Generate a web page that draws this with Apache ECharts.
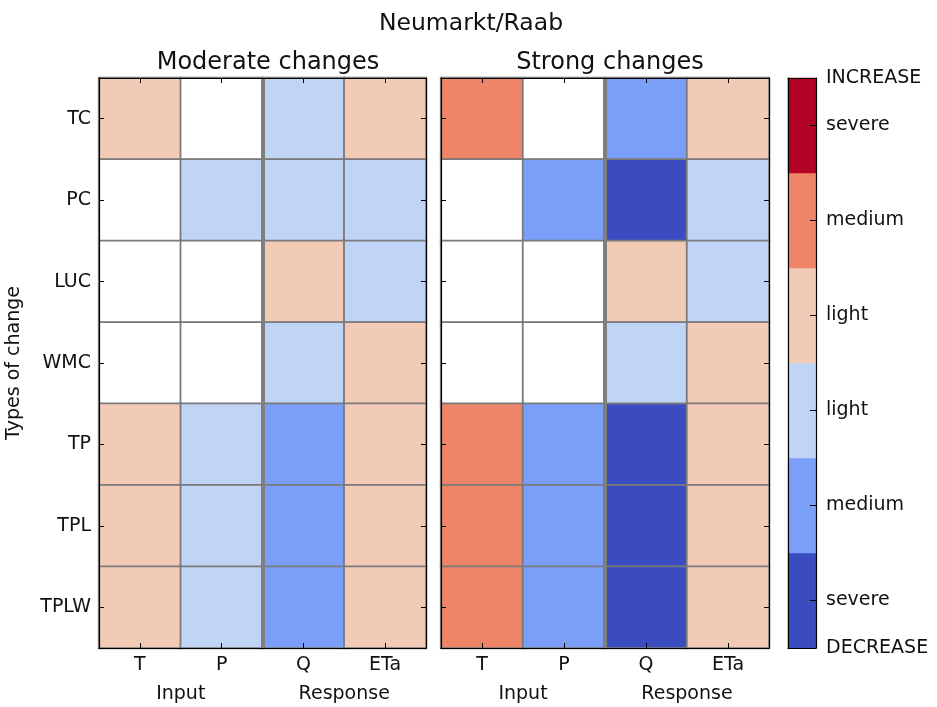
<!DOCTYPE html>
<html>
<head>
<meta charset="utf-8">
<script src="https://cdn.jsdelivr.net/npm/echarts@6/dist/echarts.min.js"></script>
<style>
  html, body { margin: 0; padding: 0; background: #fff; }
  #chart { width: 937px; height: 707px; }
</style>
</head>
<body>
<div id="chart"></div>
<script>
var columns = ['T', 'P', 'Q', 'ETa'];
var groups = ['Input', 'Response'];
var rows = ['TC', 'PC', 'LUC', 'WMC', 'TP', 'TPL', 'TPLW'];
// -3..3 : severe/medium/light decrease, no change, light/medium/severe increase
var moderate = [
  [1, 0, -1, 1],
  [0, -1, -1, -1],
  [0, 0, 1, -1],
  [0, 0, -1, 1],
  [1, -1, -2, 1],
  [1, -1, -2, 1],
  [1, -1, -2, 1]
];
var strong = [
  [2, 0, -2, 1],
  [0, -2, -3, -1],
  [0, 0, 1, -1],
  [0, 0, -1, 1],
  [2, -2, -3, 1],
  [2, -2, -3, 1],
  [2, -2, -3, 1]
];
var levels = [-3, -2, -1, 1, 2, 3];
var levelColors = ['#3b4cc0', '#7b9ff9', '#c0d4f5', '#f2cbb7', '#ee8468', '#b40426'];
var scaleLabels = ['DECREASE', 'severe', '', 'medium', '', 'light', '', 'light', '', 'medium', '', 'severe', 'INCREASE'];
var panelTitles = ['Moderate changes', 'Strong changes'];

var FONT = 'DejaVu Sans';
var chart = echarts.init(document.getElementById('chart'));

function cells(m) {
  var out = [];
  m.forEach(function (r, ri) {
    r.forEach(function (v, ci) { out.push([ci, ri, v]); });
  });
  return out;
}

var grids = [
  { left: 99, top: 78, width: 327, height: 570 },
  { left: 441, top: 78, width: 328, height: 570 },
  { left: 788, top: 78, width: 28, height: 570 }
];

var tickStyle = { show: true, inside: true, length: 5, alignWithLabel: true, lineStyle: { color: '#000', width: 1 } };
var lineStyle = { show: true, onZero: false, lineStyle: { color: '#000', width: 1.2 } };
var xAxes = [], yAxes = [], series = [];

[moderate, strong].forEach(function (m, p) {
  xAxes.push({ type: 'category', gridIndex: p, position: 'bottom', data: columns, z: 6,
    axisLine: lineStyle, axisTick: tickStyle,
    axisLabel: { color: '#111', fontSize: 19, fontFamily: FONT, margin: 8 }, splitLine: { show: false } });
  xAxes.push({ type: 'category', gridIndex: p, position: 'top', data: columns, z: 6,
    axisLine: lineStyle, axisTick: tickStyle, axisLabel: { show: false }, splitLine: { show: false } });
  xAxes.push({ type: 'category', gridIndex: p, position: 'bottom', data: groups, z: 6,
    axisLine: { show: false }, axisTick: { show: false },
    axisLabel: { color: '#111', fontSize: 19, fontFamily: FONT, margin: 37 } });
  xAxes.push({ type: 'value', gridIndex: p, position: 'bottom', min: 0, max: 4, interval: 2, z: 5,
    axisLine: { show: false }, axisTick: { show: false }, axisLabel: { show: false },
    splitLine: { show: true, showMinLine: false, showMaxLine: false, lineStyle: { color: '#7f7f7f', width: 4 } } });
  yAxes.push({ type: 'category', gridIndex: p, position: 'left', inverse: true, data: rows, z: 6,
    axisLine: lineStyle, axisTick: tickStyle,
    axisLabel: { show: p === 0, color: '#111', fontSize: 19, fontFamily: FONT, margin: 8 },
    name: p === 0 ? 'Types of change' : '', nameLocation: 'middle', nameGap: 75,
    nameTextStyle: { color: '#111', fontSize: 19, fontFamily: FONT } });
  yAxes.push({ type: 'category', gridIndex: p, position: 'right', inverse: true, data: rows, z: 6,
    axisLine: lineStyle, axisTick: tickStyle, axisLabel: { show: false } });
  series.push({ type: 'heatmap', xAxisIndex: 4 * p, yAxisIndex: 2 * p, data: cells(m), silent: true,
    emphasis: { disabled: true },
    itemStyle: { borderColor: '#7a7a7a', borderWidth: 1.8 } });
});

// colour bar
xAxes.push({ type: 'category', gridIndex: 2, position: 'bottom', data: ['c'], z: 6,
  axisLine: lineStyle, axisTick: { show: false }, axisLabel: { show: false } });
xAxes.push({ type: 'category', gridIndex: 2, position: 'top', data: ['c'], z: 6,
  axisLine: lineStyle, axisTick: { show: false }, axisLabel: { show: false } });
yAxes.push({ type: 'category', gridIndex: 2, position: 'left', data: levels.map(String), z: 6,
  axisLine: lineStyle, axisTick: { show: false }, axisLabel: { show: false } });
yAxes.push({ type: 'category', gridIndex: 2, position: 'right', data: scaleLabels, boundaryGap: false, z: 6,
  axisLine: lineStyle,
  axisTick: { show: true, inside: true, length: 6, interval: function (i) { return i % 2 === 1; },
    lineStyle: { color: '#000', width: 1 } },
  axisLabel: { interval: 0, color: '#111', fontSize: 19, fontFamily: FONT, margin: 10 } });
series.push({ type: 'heatmap', xAxisIndex: 8, yAxisIndex: 4, silent: true, emphasis: { disabled: true },
  data: levels.map(function (v, i) { return [0, i, v]; }) });

var pieces = [{ value: 0, color: '#ffffff' }];
levels.forEach(function (v, i) { pieces.push({ value: v, color: levelColors[i] }); });

chart.setOption({
  backgroundColor: '#fff',
  animation: false,
  title: [
    { text: 'Neumarkt/Raab', left: 466, top: 7, textAlign: 'center',
      textStyle: { fontFamily: FONT, fontSize: 23.5, fontWeight: 'normal', color: '#111' } },
    { text: panelTitles[0], left: 263, top: 46, textAlign: 'center',
      textStyle: { fontFamily: FONT, fontSize: 24, fontWeight: 'normal', color: '#111' } },
    { text: panelTitles[1], left: 605, top: 46, textAlign: 'center',
      textStyle: { fontFamily: FONT, fontSize: 24, fontWeight: 'normal', color: '#111' } }
  ],
  visualMap: { type: 'piecewise', show: false, dimension: 2, pieces: pieces },
  grid: grids,
  xAxis: xAxes,
  yAxis: yAxes,
  series: series
});
</script>
</body>
</html>
